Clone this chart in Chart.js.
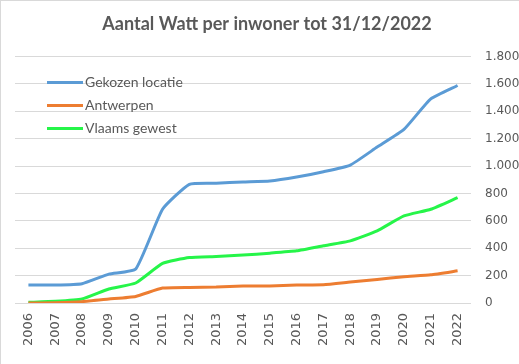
<html>
<head>
    <style>
        body {
            margin: 0;
            background-color: white;
        }

        #wrap {
            width: 519px;
            height: 364px;
            box-sizing: border-box;
            border-left: 1px solid #d9d9d9;
            border-top: 1px solid #d9d9d9;
            position: relative;
        }
    </style>
    <script src="https://cdn.jsdelivr.net/npm/chart.js@4.4.0/dist/chart.umd.min.js"></script>
</head>

<body>
    <div id="wrap">
        <canvas id="myChart"></canvas>
    </div>
</body>

<script>
    // jaartallen op de x-as
    var years = ['2006', '2007', '2008', '2009', '2010', '2011', '2012', '2013', '2014',
        '2015', '2016', '2017', '2018', '2019', '2020', '2021', '2022'];

    // Watt per inwoner
    var gekozenLocatie = [131, 131, 141, 211, 248, 685, 867, 875, 884, 891, 920, 959, 1008, 1139, 1268, 1491, 1589];
    var antwerpen = [0, 2, 10, 29, 48, 109, 114, 116, 124, 124, 131, 133, 153, 172, 192, 206, 235];
    var vlaamsGewest = [5, 12, 29, 102, 146, 289, 332, 340, 350, 364, 381, 418, 454, 527, 636, 685, 770];

    var seriesNames = ['Gekozen locatie', 'Antwerpen', 'Vlaams gewest'];
    var seriesColors = ['rgb(91, 155, 213)', 'rgb(237, 125, 49)', 'rgb(38, 245, 73)'];

    var textColor = '#595959';

    function formatThousands(v) {
        return String(v).replace(/\B(?=(\d{3})+(?!\d))/g, '.');
    }

    // legende binnen het plotgebied, links boven
    var insideLegend = {
        id: 'insideLegend',
        afterDraw: function (chart) {
            var ctx = chart.ctx;
            var area = chart.chartArea;
            var x = area.left + 32;
            var y = area.top + 26;
            ctx.save();
            ctx.font = '14px Lato, sans-serif';
            ctx.textBaseline = 'middle';
            ctx.fillStyle = textColor;
            chart.data.datasets.forEach(function (ds, i) {
                var yy = y + i * 23;
                ctx.strokeStyle = ds.borderColor;
                ctx.lineWidth = 3;
                ctx.beginPath();
                ctx.moveTo(x, yy);
                ctx.lineTo(x + 36, yy);
                ctx.stroke();
                ctx.fillText(ds.label, x + 38, yy);
            });
            ctx.restore();
        }
    };

    function makeSet(i, values) {
        return {
            label: seriesNames[i],
            borderColor: seriesColors[i],
            backgroundColor: seriesColors[i],
            borderWidth: 3,
            pointRadius: 0,
            tension: 0.15,
            fill: false,
            data: values
        };
    }

    var paintingCanvas = document.getElementById('myChart').getContext('2d');
    var chart = new Chart(paintingCanvas, {
        type: 'line',
        data: {
            labels: years,
            datasets: [
                makeSet(0, gekozenLocatie),
                makeSet(1, antwerpen),
                makeSet(2, vlaamsGewest)
            ]
        },
        plugins: [insideLegend],
        options: {
            responsive: true,
            maintainAspectRatio: false,
            animation: false,
            layout: {
                padding: { left: 14, right: 0, top: 0, bottom: 0 }
            },
            plugins: {
                legend: { display: false },
                tooltip: { enabled: false },
                title: {
                    display: true,
                    text: 'Aantal Watt per inwoner tot 31/12/2022',
                    color: textColor,
                    font: { family: 'Lato', size: 18, weight: 'bold' },
                    padding: { top: 12, bottom: 22 }
                }
            },
            scales: {
                x: {
                    offset: true,
                    grid: { display: false, drawTicks: false },
                    border: { display: false },
                    ticks: {
                        color: textColor,
                        font: { family: 'DejaVu Sans', size: 13 },
                        minRotation: 90,
                        maxRotation: 90,
                        padding: 10,
                        autoSkip: false
                    },
                    afterFit: function (scale) { scale.height = 61; }
                },
                y: {
                    position: 'right',
                    min: 0,
                    max: 1800,
                    grid: { color: '#d9d9d9', drawTicks: false },
                    border: { display: false },
                    ticks: {
                        stepSize: 200,
                        color: textColor,
                        font: { family: 'DejaVu Sans', size: 12 },
                        padding: 14,
                        callback: function (v) { return formatThousands(v); }
                    },
                    afterFit: function (scale) { scale.width = 48; }
                }
            }
        }
    });
</script>

</html>
